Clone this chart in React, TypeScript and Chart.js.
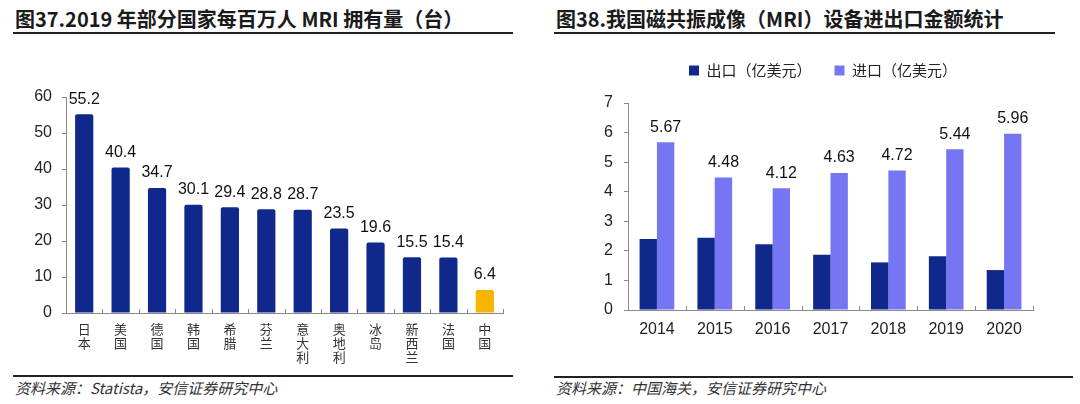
import React, { useEffect, useRef } from "react";
import { Chart, registerables } from "chart.js";

Chart.register(...registerables);

// ---------- Data ----------
const countryLabels = ["日本", "美国", "德国", "韩国", "希腊", "芬兰", "意大利", "奥地利", "冰岛", "新西兰", "法国", "中国"];
const countryValues = [55.2, 40.4, 34.7, 30.1, 29.4, 28.8, 28.7, 23.5, 19.6, 15.5, 15.4, 6.4];
const leftYTicks = [0, 10, 20, 30, 40, 50, 60];

const years = ["2014", "2015", "2016", "2017", "2018", "2019", "2020"];
const exportValues = [2.4, 2.44, 2.22, 1.87, 1.61, 1.82, 1.35];
const importValues = [5.67, 4.48, 4.12, 4.63, 4.72, 5.44, 5.96];
const rightYTicks = [0, 1, 2, 3, 4, 5, 6, 7];
const seriesNames = ["出口（亿美元）", "进口（亿美元）"];

// ---------- Styles ----------
const NAVY = "#10288C";
const LIGHT = "#7676F4";
const GOLD = "#F7B500";
const AXIS = "#8a8a8a";
const NUM_FONT = "'Liberation Sans', Arial, sans-serif";
const CJK_FONT = "'Noto Sans CJK SC', sans-serif";

const innerTicks = {
  id: "innerTicks",
  afterDraw(chart: any) {
    const xs = chart.scales.x;
    const n = xs.ticks.length;
    const ctx = chart.ctx;
    ctx.save();
    ctx.strokeStyle = AXIS;
    ctx.lineWidth = 1;
    for (let i = 1; i <= n; i++) {
      const x = Math.round(xs.left + (i * xs.width) / n) + 0.5;
      ctx.beginPath();
      ctx.moveTo(x, xs.top);
      ctx.lineTo(x, xs.top - 4);
      ctx.stroke();
    }
    ctx.restore();
  },
};

const valueLabels = {
  id: "valueLabels",
  afterDatasetsDraw(chart: any, _args: any, opts: any) {
    const ctx = chart.ctx;
    const which: number[] = opts.datasets || [0];
    ctx.save();
    ctx.font = `16px ${NUM_FONT}`;
    ctx.fillStyle = "#111";
    ctx.textAlign = "center";
    ctx.textBaseline = "bottom";
    which.forEach((di) => {
      const meta = chart.getDatasetMeta(di);
      const data = chart.data.datasets[di].data;
      meta.data.forEach((el: any, i: number) => {
        ctx.fillText(String(data[i]), el.x, el.y - 7);
      });
    });
    ctx.restore();
  },
};

const legendSize = {
  id: "legendSize",
  afterInit(chart: any, _a: any, opts: any) {
    const lg = chart.legend;
    if (!lg || !opts || !opts.height) return;
    const orig = lg.fit;
    lg.fit = function () {
      orig.call(this);
      this.height = opts.height;
    };
  },
  afterLayout(chart: any, _a: any, opts: any) {
    const lg = chart.legend;
    if (!lg || !opts || opts.left == null) return;
    lg.left = opts.left;
    lg.width = lg.right - opts.left;
  },
};

function LeftChart() {
  const ref = useRef<HTMLCanvasElement>(null);
  useEffect(() => {
    const chart = new Chart(ref.current!, {
      type: "bar",
      data: {
        labels: countryLabels.map((s) => s.split("")),
        datasets: [
          {
            data: countryValues,
            backgroundColor: countryLabels.map((c) => (c === "中国" ? GOLD : NAVY)),
            barPercentage: 0.5,
            categoryPercentage: 1,
            borderRadius: 2,
          },
        ],
      },
      options: {
        animation: false,
        responsive: false,
        devicePixelRatio: 1,
        layout: { padding: { top: 57, right: 37, left: 0, bottom: 0 } },
        plugins: {
          legend: { display: false },
          tooltip: { enabled: false },
          valueLabels: { datasets: [0] },
        } as any,
        scales: {
          x: {
            grid: { display: false, drawTicks: false },
            border: { display: true, color: AXIS, width: 1 },
            ticks: {
              color: "#333",
              font: { family: CJK_FONT, size: 13, lineHeight: 1.08 },
              padding: 9,
              maxRotation: 0,
              autoSkip: false,
            },
            afterFit(s: any) {
              s.height = 57;
            },
          },
          y: {
            min: 0,
            max: 60,
            afterBuildTicks(s: any) {
              s.ticks = leftYTicks.map((v) => ({ value: v }));
            },
            grid: { display: true, drawOnChartArea: false, drawTicks: true, tickLength: 4, color: AXIS },
            border: { display: true, color: AXIS, width: 1 },
            ticks: { color: "#222", font: { family: NUM_FONT, size: 16 }, padding: 10 },
            afterFit(s: any) {
              s.width = 66;
            },
          },
        },
      },
      plugins: [innerTicks, valueLabels],
    });
    return () => chart.destroy();
  }, []);
  return <canvas ref={ref} width={540} height={330} style={{ position: "absolute", left: 0, top: 40, width: 540, height: 330 }} />;
}

function RightChart() {
  const ref = useRef<HTMLCanvasElement>(null);
  useEffect(() => {
    const chart = new Chart(ref.current!, {
      type: "bar",
      data: {
        labels: years,
        datasets: [
          { label: seriesNames[0], data: exportValues, backgroundColor: NAVY, barPercentage: 1, categoryPercentage: 0.6 },
          { label: seriesNames[1], data: importValues, backgroundColor: LIGHT, barPercentage: 1, categoryPercentage: 0.6 },
        ],
      },
      options: {
        animation: false,
        responsive: false,
        devicePixelRatio: 1,
        layout: { padding: { top: 0, right: 47, left: 0, bottom: 0 } },
        plugins: {
          legend: {
            display: true,
            position: "top",
            align: "center",
            labels: {
              boxWidth: 10,
              boxHeight: 10,
              padding: 23,
              color: "#222",
              font: { family: CJK_FONT, size: 15 },
            },
          },
          tooltip: { enabled: false },
          valueLabels: { datasets: [1] },
          legendSize: { height: 63, left: 73 },
        } as any,
        scales: {
          x: {
            grid: { display: false, drawTicks: false },
            border: { display: true, color: AXIS, width: 1 },
            ticks: { color: "#222", font: { family: NUM_FONT, size: 16 }, padding: 10, maxRotation: 0 },
            afterFit(s: any) {
              s.height = 60;
            },
          },
          y: {
            min: 0,
            max: 7,
            afterBuildTicks(s: any) {
              s.ticks = rightYTicks.map((v) => ({ value: v }));
            },
            grid: { display: true, drawOnChartArea: false, drawTicks: true, tickLength: 4, color: AXIS },
            border: { display: true, color: AXIS, width: 1 },
            ticks: { color: "#222", font: { family: NUM_FONT, size: 16 }, padding: 11 },
            afterFit(s: any) {
              s.width = 88;
            },
          },
        },
      },
      plugins: [legendSize, innerTicks, valueLabels],
    });
    return () => chart.destroy();
  }, []);
  return <canvas ref={ref} width={540} height={330} style={{ position: "absolute", left: 540, top: 40, width: 540, height: 330 }} />;
}

const titleStyle: React.CSSProperties = {
  position: "absolute",
  top: 8,
  fontFamily: CJK_FONT,
  fontWeight: 700,
  fontSize: 20,
  lineHeight: "22px",
  color: "#1a1a1a",
  whiteSpace: "nowrap",
};
const sourceStyle: React.CSSProperties = {
  position: "absolute",
  top: 379,
  fontFamily: CJK_FONT,
  fontStyle: "italic",
  fontSize: 15,
  lineHeight: "18px",
  color: "#333",
  whiteSpace: "nowrap",
};
const rule = (left: number, top: number, width: number): React.CSSProperties => ({
  position: "absolute",
  left,
  top,
  width,
  height: 2,
  background: "#222",
});

export default function App() {
  return (
    <div style={{ position: "fixed", left: 0, top: 0, width: 1080, height: 404, background: "#fff", overflow: "hidden" }}>
      <div style={{ ...titleStyle, left: 15 }}>图37.2019 年部分国家每百万人 MRI 拥有量（台）</div>
      <div style={{ ...titleStyle, left: 556 }}>图38.我国磁共振成像（MRI）设备进出口金额统计</div>
      <div style={rule(13, 32, 500)} />
      <div style={rule(554, 32, 501)} />
      <LeftChart />
      <RightChart />
      <div style={rule(13, 375, 500)} />
      <div style={rule(554, 376, 519)} />
      <div style={{ ...sourceStyle, left: 15 }}>资料来源：Statista，安信证券研究中心</div>
      <div style={{ ...sourceStyle, left: 556 }}>资料来源：中国海关，安信证券研究中心</div>
    </div>
  );
}
